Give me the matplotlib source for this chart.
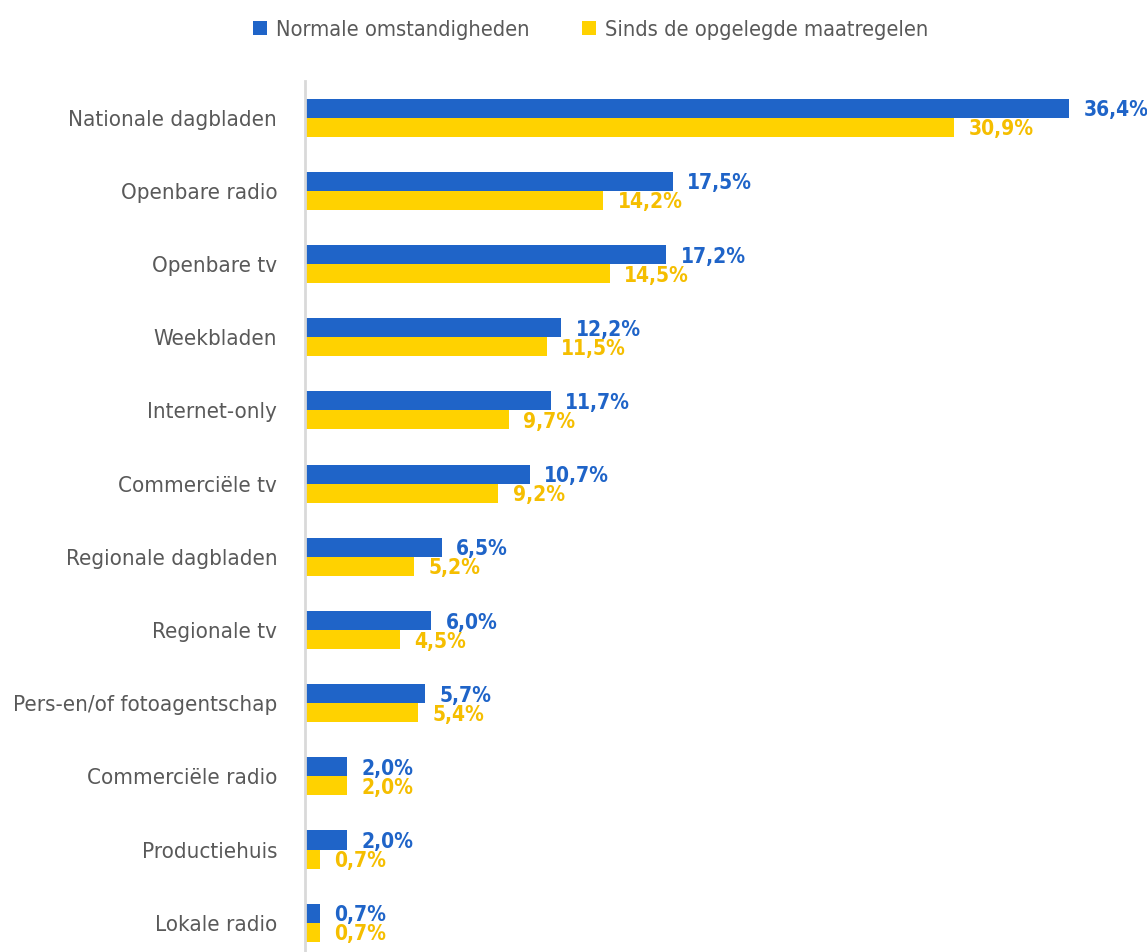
import matplotlib
matplotlib.use("Agg")
import matplotlib.pyplot as plt
import numpy as np

categories = ["Nationale dagbladen", "Openbare radio", "Openbare tv", "Weekbladen",
              "Internet-only", "Commerciële tv", "Regionale dagbladen", "Regionale tv",
              "Pers-en/of fotoagentschap", "Commerciële radio", "Productiehuis", "Lokale radio"]
normaal = [36.4, 17.5, 17.2, 12.2, 11.7, 10.7, 6.5, 6.0, 5.7, 2.0, 2.0, 0.7]
sinds = [30.9, 14.2, 14.5, 11.5, 9.7, 9.2, 5.2, 4.5, 5.4, 2.0, 0.7, 0.7]
series_names = ["Normale omstandigheden", "Sinds de opgelegde maatregelen"]

BLUE = "#1F64C8"
YELLOW = "#FFD200"
GRAY = "#595959"
FONT = dict(family="DejaVu Sans", stretch="condensed")

fig = plt.figure(figsize=(11.47, 9.52), dpi=100)
ax = fig.add_axes([305/1147, 0, 840/1147, 1 - 81/952])

y = np.arange(len(categories))
h = 0.26
ax.barh(y - h/2, normaal, height=h, color=BLUE, label=series_names[0])
ax.barh(y + h/2, sinds, height=h, color=YELLOW, label=series_names[1])

for yi, v in zip(y, normaal):
    ax.annotate(f"{v:.1f}%".replace(".", ","), (v, yi - h/2), xytext=(10.5, -1.5),
                textcoords="offset points", va="center", ha="left", color=BLUE,
                fontsize=15, fontweight="bold", **FONT)
for yi, v in zip(y, sinds):
    ax.annotate(f"{v:.1f}%".replace(".", ","), (v, yi + h/2), xytext=(10.5, -1.5),
                textcoords="offset points", va="center", ha="left", color="#F5BE00",
                fontsize=15, fontweight="bold", **FONT)

ax.set_xlim(0, 40)
ax.set_ylim(11.4, -0.5)
ax.set_yticks(y)
ax.set_yticklabels(categories, fontsize=16, color=GRAY, **FONT)
ax.tick_params(axis="y", length=0, pad=20)
ax.set_xticks([])
for s in ["top", "right", "bottom"]:
    ax.spines[s].set_visible(False)
ax.spines["left"].set_color("#D9D9D9")
ax.spines["left"].set_linewidth(2)

handles, labels = ax.get_legend_handles_labels()
leg = fig.legend(handles, labels, loc="upper center", bbox_to_anchor=(0.515, 1.0),
                 ncol=2, frameon=False, handlelength=0.65, handleheight=0.65,
                 columnspacing=2.4, handletextpad=0.4,
                 prop=dict(size=15.7, **FONT))
for t in leg.get_texts():
    t.set_color(GRAY)

fig.savefig("out.png", dpi=100)
